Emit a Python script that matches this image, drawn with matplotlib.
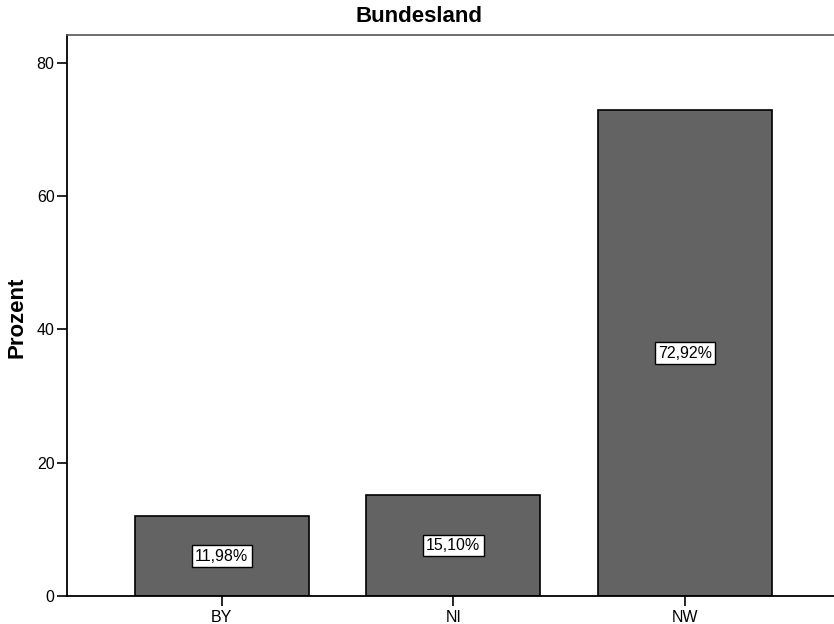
import matplotlib
matplotlib.use("Agg")
import matplotlib.pyplot as plt

categories = ["BY", "NI", "NW"]
values = [11.98, 15.10, 72.92]
labels = ["11,98%", "15,10%", "72,92%"]
yticks = [0, 20, 40, 60, 80]

plt.rcParams['font.family'] = ['Liberation Sans', 'DejaVu Sans']

fig = plt.figure(figsize=(8.34, 6.24), dpi=100)
ax = fig.add_axes([67/834, 1 - 596/624, (834 - 67)/834 + 0.01, (596 - 35)/624])

x = list(range(len(categories)))
ax.bar(x, values, width=0.75, color="#636363", edgecolor="black", linewidth=1.2, zorder=2)
for xi, v, lab in zip(x, values, labels):
    ax.text(xi, v / 2, lab, ha="center", va="center", fontsize=11.5,
            bbox=dict(boxstyle="square,pad=0.2", facecolor="white", edgecolor="black", linewidth=1))

ax.set_xlim(-0.668, 2.68)
ax.set_ylim(0, 84.2)
ax.set_xticks(x)
ax.set_xticklabels(categories, fontsize=11.5)
ax.set_yticks(yticks)
ax.set_yticklabels([str(t) for t in yticks], fontsize=11.5)
ax.tick_params(axis="y", length=7, width=1.2, direction="out", pad=2)
ax.tick_params(axis="x", length=7, width=1.2, direction="out", pad=3)
for s in ["left", "bottom"]:
    ax.spines[s].set_linewidth(1.3)
ax.spines["top"].set_linewidth(1.2)
ax.spines["top"].set_color("#555555")
ax.spines["right"].set_visible(False)

fig.text(419/834, 1 - 17/624, "Bundesland", ha="center", va="center", fontsize=16, fontweight="bold")
fig.text(17/834, 1 - 317/624, "Prozent", ha="center", va="center", rotation=90, fontsize=16, fontweight="bold")

fig.savefig("out.png", dpi=100)
